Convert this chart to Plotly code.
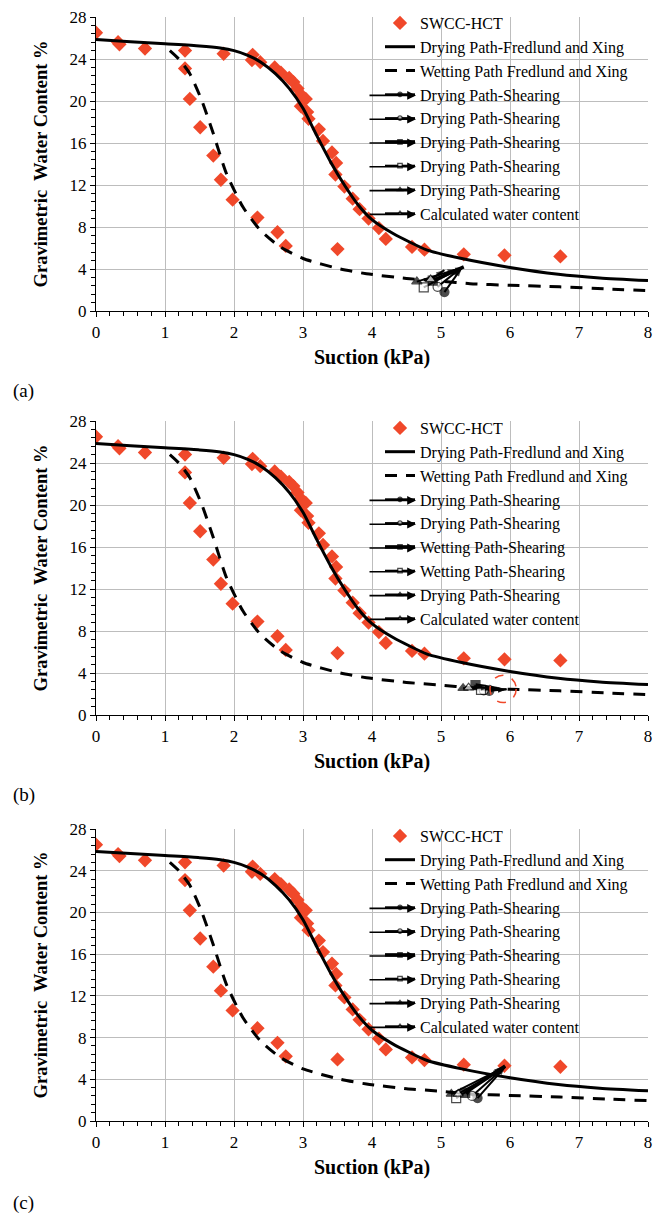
import plotly.graph_objects as go

# ---------------- data ----------------
swcc_x = [0.00, 0.32, 0.34, 0.71, 1.29, 1.29, 1.36, 1.51, 1.70, 1.81, 1.98, 2.34, 2.63, 2.75, 3.50,
          1.85, 2.27, 2.26, 2.38, 2.59, 2.68, 2.80, 2.86, 2.92, 2.97, 3.04, 2.97, 3.06, 3.08,
          3.23, 3.29, 3.42, 3.48, 3.47, 3.60, 3.72, 3.82, 3.95, 4.10, 4.20, 4.58, 4.76, 5.33, 5.92, 6.73]
swcc_y = [26.5, 25.6, 25.4, 25.0, 24.8, 23.1, 20.2, 17.5, 14.8, 12.5, 10.6, 8.9, 7.5, 6.2, 5.9,
          24.5, 24.4, 23.9, 23.7, 23.2, 22.7, 22.2, 21.8, 21.2, 20.6, 20.2, 19.5, 18.95, 18.3,
          17.3, 16.2, 15.1, 14.1, 13.0, 11.85, 10.7, 9.7, 8.8, 7.9, 6.86, 6.1, 5.84, 5.4, 5.3, 5.2]

dry_x = [0.0, 0.5, 1.0, 1.5, 1.8, 2.0, 2.2, 2.4, 2.6, 2.8, 3.0, 3.2, 3.4, 3.6, 3.8, 4.0, 4.3, 4.8, 5.3, 6.0, 6.7, 7.3, 8.0]
dry_y = [25.85, 25.65, 25.45, 25.25, 25.05, 24.8, 24.35, 23.65, 22.6, 21.2, 19.3, 16.7, 14.2, 12.0, 10.1, 8.7, 7.4, 5.8, 5.0, 4.15, 3.5, 3.15, 2.9]

wet_x = [1.07, 1.2, 1.36, 1.53, 1.70, 1.89, 2.13, 2.38, 2.67, 3.0, 3.54, 3.92, 4.5, 5.0, 5.42, 6.0, 6.72, 7.4, 8.0]
wet_y = [24.8, 24.0, 22.6, 20.1, 16.9, 13.1, 9.9, 7.7, 6.1, 5.0, 4.0, 3.55, 3.1, 2.85, 2.6, 2.45, 2.3, 2.1, 1.95]

# shearing paths: [start, end] per series
a_names = ["Drying Path-Shearing"] * 5 + ["Calculated water content"]
a_x = [[5.05, 5.30], [4.95, 5.28], [4.88, 5.33], [4.75, 5.25], [4.65, 5.22], [4.85, 5.05]]
a_y = [[1.80, 4.10], [2.30, 4.05], [2.90, 4.20], [2.25, 4.00], [2.80, 3.95], [3.00, 3.90]]

b_names = ["Drying Path-Shearing", "Drying Path-Shearing", "Wetting Path-Shearing",
           "Wetting Path-Shearing", "Drying Path-Shearing", "Calculated water content"]
b_x = [[5.70, 5.95], [5.62, 5.95], [5.50, 5.82], [5.58, 5.85], [5.32, 5.60], [5.40, 5.70]]
b_y = [[2.30, 2.45], [2.35, 2.45], [2.85, 2.50], [2.40, 2.50], [2.55, 2.70], [2.60, 2.60]]

c_names = ["Drying Path-Shearing"] * 5 + ["Calculated water content"]
c_x = [[5.53, 5.93], [5.45, 5.93], [5.35, 5.93], [5.22, 5.90], [5.15, 5.90], [5.25, 5.88]]
c_y = [[2.20, 5.20], [2.40, 5.20], [2.70, 5.27], [2.20, 5.10], [2.60, 5.10], [2.60, 5.00]]

panel_labels = ["(a)", "(b)", "(c)"]
x_ticks = list(range(0, 9))
y_ticks = list(range(0, 29, 4))

# ---------------- layout geometry (reference pixels, page offset 8px) ----------------
OFF = 8
W, H = 665 - OFF, 1216 - OFF
ML, MR, MT = 96 - OFF, 17, 17 - OFF
MB = H - (1121 - OFF)
PH = H - MT - MB
PW = W - ML - MR
FONT = "Liberation Serif, Times New Roman, serif"
RED = "#F0482A"
LEG_FS = 16
ROW = 23.8

def py(pix):
    return (H - MB - (pix - OFF)) / PH

def px(pix):
    return (pix - OFF - ML) / PW

panel_pix = [(17, 311), (421, 715), (829, 1121)]  # top, bottom in reference pixels
legend_top = [16, 421, 829]
series_style = [
    dict(symbol="circle", fill="black", width=2),
    dict(symbol="circle", fill="white", width=2),
    dict(symbol="square", fill="black", width=3.5),
    dict(symbol="square", fill="white", width=2),
    dict(symbol="triangle-up", fill="black", width=2),
    dict(symbol="triangle-up", fill="white", width=2),
]

fig = go.Figure()
shear = [(a_names, a_x, a_y), (b_names, b_x, b_y), (c_names, c_x, c_y)]

for i in range(3):
    sfx = "" if i == 0 else str(i + 1)
    xa, ya = "x" + sfx, "y" + sfx
    leg = "legend" + sfx
    fig.add_trace(go.Scatter(x=swcc_x, y=swcc_y, mode="markers", name="SWCC-HCT",
                             marker=dict(symbol="diamond", size=11, color=RED),
                             xaxis=xa, yaxis=ya, legend=leg))
    fig.add_trace(go.Scatter(x=dry_x, y=dry_y, mode="lines", name="Drying Path-Fredlund and Xing",
                             line=dict(color="black", width=3, shape="spline", smoothing=0.6),
                             xaxis=xa, yaxis=ya, legend=leg))
    fig.add_trace(go.Scatter(x=wet_x, y=wet_y, mode="lines", name="Wetting Path Fredlund and Xing",
                             line=dict(color="black", width=3, dash="12px,9px", shape="spline", smoothing=0.6),
                             xaxis=xa, yaxis=ya, legend=leg))
    names, sx, sy = shear[i]
    for k in range(6):
        st = series_style[k]
        fig.add_trace(go.Scatter(
            x=sx[k], y=sy[k], mode="lines+markers", name=names[k],
            line=dict(color="black", width=st["width"]),
            marker=dict(symbol=st["symbol"], size=[9, 0],
                        color=st["fill"], line=dict(color="black", width=1.2)),
            xaxis=xa, yaxis=ya, legend=leg))
        # arrow head at the end of each path
        fig.add_trace(go.Scatter(
            x=sx[k], y=sy[k], mode="markers", showlegend=False, hoverinfo="skip",
            marker=dict(symbol="arrow", size=[0, 9], angleref="previous", color="black",
                        line=dict(width=0)),
            xaxis=xa, yaxis=ya))

    top, bot = panel_pix[i]
    common_font = dict(family=FONT, size=17, color="black")
    fig.layout["xaxis" + sfx] = dict(
        domain=[0, 1], anchor=ya, range=[0, 8], tickvals=x_ticks, showgrid=True, automargin=False,
        gridcolor="#BDBDBD", gridwidth=1, showline=True, linecolor="black", linewidth=1.3,
        ticks="outside", ticklen=5, tickcolor="black", zeroline=False, ticklabeloverflow="allow",
        minor=dict(dtick=0.2, ticks="outside", ticklen=4, tickcolor="black", showgrid=False),
        tickfont=common_font,
        title=dict(text="<b>Suction (kPa)</b>", font=dict(family=FONT, size=20, color="black"), standoff=9))
    fig.layout["yaxis" + sfx] = dict(
        domain=[py(bot), py(top)], anchor=xa, range=[0, 28], tickvals=y_ticks, showgrid=True,
        automargin=False, ticklabeloverflow="allow",
        gridcolor="#BDBDBD", gridwidth=1, showline=True, linecolor="black", linewidth=1.3,
        ticks="outside", ticklen=5, tickcolor="black", zeroline=False,
        minor=dict(dtick=0.8, ticks="outside", ticklen=4, tickcolor="black", showgrid=False),
        tickfont=common_font,
        title=dict(text="<b>Gravimetric  Water Content %</b>", font=dict(family=FONT, size=18.5, color="black"), standoff=16))
    fig.layout[leg] = dict(x=px(380), y=py(legend_top[i] - 10), xanchor="left", yanchor="top",
                           bgcolor="rgba(0,0,0,0)", borderwidth=0, tracegroupgap=0,
                           font=dict(family=FONT, size=LEG_FS, color="black"))
    # arrowheads on legend samples of the shearing entries
    for k in range(6):
        row_y = legend_top[i] + 8 + ROW * (3 + k)
        fig.add_annotation(text="", xref="paper", yref="paper", x=px(416), y=py(row_y),
                           ax=-48, ay=0, showarrow=True, arrowhead=2, arrowsize=1.1,
                           arrowwidth=1.6, arrowcolor="black")

fig.add_shape(type="circle", xref="x2", yref="y2", x0=5.71, x1=6.09, y0=1.18, y1=3.78,
              line=dict(color=RED, width=1.5, dash="dash"))

for lab, ypix in zip(panel_labels, [391, 795, 1203]):
    fig.add_annotation(text=lab, xref="paper", yref="paper", x=px(11), y=py(ypix),
                       xanchor="left", yanchor="middle", showarrow=False,
                       font=dict(family=FONT, size=19, color="black"))

fig.update_layout(width=W, height=H, margin=dict(l=ML, r=MR, t=MT, b=MB, autoexpand=False),
                  paper_bgcolor="white", plot_bgcolor="white", showlegend=True,
                  font=dict(family=FONT, color="black"))

fig.write_html("out.html")
